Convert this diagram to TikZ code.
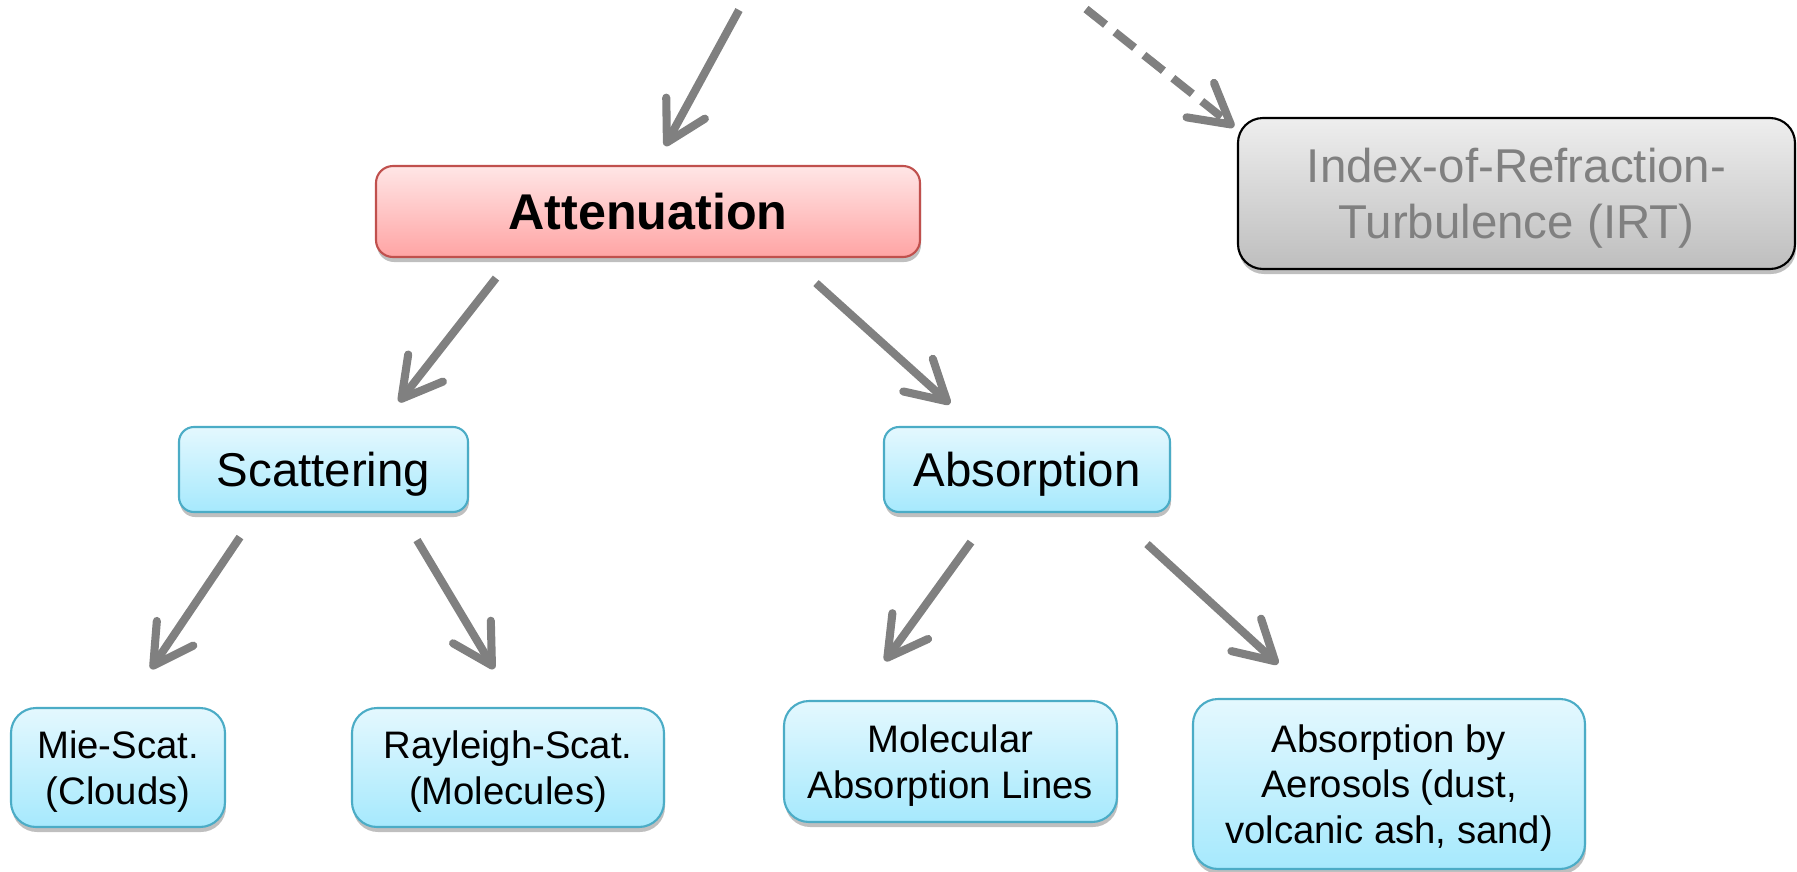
\documentclass[tikz,border=0pt]{standalone}
\usepackage{fontspec}
\setmainfont{Liberation Sans}
\usetikzlibrary{arrows.meta,shadows}

\definecolor{arrgray}{HTML}{808080}
\definecolor{attTop}{HTML}{FFE6E6}
\definecolor{attBot}{HTML}{FFA4A4}
\definecolor{attLine}{HTML}{C0504D}
\definecolor{blueTop}{HTML}{E4F8FE}
\definecolor{blueBot}{HTML}{A6E9FD}
\definecolor{blueLine}{HTML}{4BACC6}
\definecolor{irtTop}{HTML}{EEEEEE}
\definecolor{irtBot}{HTML}{BEBEBE}

\begin{document}
\begin{tikzpicture}[
    box/.style={draw, line width=0.6pt, align=center, inner sep=0pt, text depth=0pt,
        drop shadow={shadow xshift=0.01cm, shadow yshift=-0.05cm, opacity=0.25, fill=black}},
    attbox/.style={box, rounded corners=0.17cm, draw=attLine, top color=attTop, bottom color=attBot,
        font=\fontsize{14.3pt}{17pt}\selectfont\bfseries},
    irtbox/.style={box, rounded corners=0.25cm, draw=black, top color=irtTop, bottom color=irtBot,
        text=arrgray, font=\fontsize{13.5pt}{16pt}\selectfont},
    midbox/.style={box, rounded corners=0.15cm, draw=blueLine, top color=blueTop, bottom color=blueBot,
        font=\fontsize{13.5pt}{16pt}\selectfont},
    leafbox/.style={box, rounded corners=0.25cm, draw=blueLine, top color=blueTop, bottom color=blueBot,
        font=\fontsize{10.9pt}{12.9pt}\selectfont},
    arr/.style={arrgray, line width=2.3pt, -{Straight Barb[round, length=3.9mm, width=4.4mm]}}
]
\useasboundingbox (0,0) rectangle (17.97,-8.71);

% top level
\node[attbox, minimum width=5.44cm, minimum height=0.91cm] (att) at (6.48,-2.115) {Attenuation};
\node[irtbox, minimum width=5.57cm, minimum height=1.51cm] (irt) at (15.165,-1.935) {Index-of-Refraction-\\Turbulence (IRT)};

\coordinate (src) at (7.39,-0.10);
\coordinate (irtsrc) at (10.86,-0.09);
\draw[arr] (src) -- ([xshift=0.17cm,yshift=0.19cm]att.north);
\draw[arr, dash pattern=on 0.25cm off 0.12cm] (irtsrc) -- ([xshift=-0.03cm,yshift=-0.10cm]irt.north west);

% second level
\node[midbox, minimum width=2.89cm, minimum height=0.85cm] (scat) at (3.235,-4.695) {Scattering};
\node[midbox, minimum width=2.86cm, minimum height=0.85cm] (abs) at (10.27,-4.695) {Absorption};

\draw[arr] ([xshift=-1.52cm,yshift=-0.20cm]att.south) -- ([xshift=0.755cm,yshift=0.24cm]scat.north);
\draw[arr] ([xshift=1.68cm,yshift=-0.25cm]att.south) -- ([xshift=-0.77cm,yshift=0.22cm]abs.north);

% leaves
\node[leafbox, minimum width=2.14cm, minimum height=1.19cm] (mie) at (1.18,-7.675) {Mie-Scat.\\(Clouds)};
\node[leafbox, minimum width=3.12cm, minimum height=1.19cm] (ray) at (5.08,-7.675) {Rayleigh-Scat.\\(Molecules)};
\node[leafbox, minimum width=3.33cm, minimum height=1.21cm] (mol) at (9.505,-7.615) {Molecular\\Absorption Lines};
\node[leafbox, minimum width=3.92cm, minimum height=1.70cm] (aer) at (13.89,-7.84) {Absorption by\\Aerosols (dust,\\volcanic ash, sand)};

\draw[arr] ([xshift=-0.835cm,yshift=-0.24cm]scat.south) -- ([xshift=0.33cm,yshift=0.38cm]mie.north);
\draw[arr] ([xshift=0.935cm,yshift=-0.27cm]scat.south) -- ([xshift=-0.14cm,yshift=0.38cm]ray.north);
\draw[arr] ([xshift=-0.56cm,yshift=-0.29cm]abs.south) -- ([xshift=-0.655cm,yshift=0.39cm]mol.north);
\draw[arr] ([xshift=1.20cm,yshift=-0.31cm]abs.south) -- ([xshift=-1.11cm,yshift=0.34cm]aer.north);

\end{tikzpicture}
\end{document}
